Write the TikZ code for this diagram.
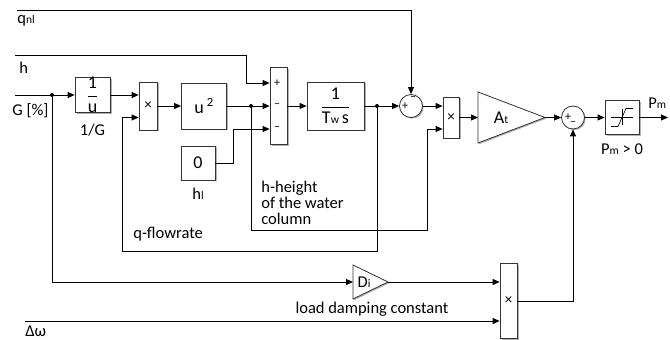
\documentclass[tikz,border=0pt]{standalone}
\usepackage{fontspec}
\setmainfont{Carlito}
\usepackage{amsmath}
\usetikzlibrary{arrows.meta, positioning, shadows}

\newcommand{\lowsub}[1]{{\fontsize{11.5}{12}\selectfont #1}}

\begin{document}
\begin{tikzpicture}[
			x=1pt, y=1pt,
			font=\fontsize{16.5}{19}\selectfont,
			line width=0.8pt,
			block/.style={
				rectangle,
				draw=black!80,
				fill=white,
				inner sep=0pt,
				drop shadow={shadow xshift=1.5pt, shadow yshift=-1.5pt, fill=black!30, opacity=1}
			},
			fracbox/.style={
				block,
				font=\fontsize{18}{20}\selectfont
			},
			prodbox/.style={
				block,
				font=\fontsize{15}{15}\selectfont
			},
			sumcirc/.style={
				circle,
				draw=black!80,
				fill=white,
				minimum size=23pt,
				inner sep=0pt,
				drop shadow={shadow xshift=1.2pt, shadow yshift=-1.2pt, fill=black!30, opacity=1}
			},
			gainshape/.style={
				draw=black!80,
				fill=white,
				line join=miter,
				drop shadow={shadow xshift=1.2pt, shadow yshift=-1.2pt, fill=black!30, opacity=1}
			},
			sig/.style={
				-{Triangle[length=7pt, width=6pt]}
			},
			dot/.style={
				circle,
				fill,
				inner sep=0pt,
				minimum size=4pt
			},
			sign/.style={
				font=\fontsize{12}{12}\selectfont,
				inner sep=0pt
			},
			txt/.style={
				inner sep=0pt
			}
			]
			
			\useasboundingbox (0,0) rectangle (670,340);
			
			% Input signals
			\coordinate (qnl_in) at (17,330);
			\coordinate (h_in) at (15,285);
			\coordinate (g_in) at (15,245);
			\coordinate (dw_in) at (25,19);
			\node[txt, anchor=north west] (qnl_lbl) at (17,325) {q\lowsub{nl}};
			\node[txt, anchor=north west] (h_lbl) at (19,278) {h};
			\node[txt, anchor=north west] (g_lbl) at (12,237) {G [\%]};
			\node[txt, anchor=north west] (dw_lbl) at (25,14.5) {Δω};
			
			% 1/G block
			\node[fracbox, minimum width=35pt, minimum height=35pt] (inv) at (92.5,245) {$\dfrac{\text{1}}{\text{u}}$};
			\node[txt, below=11pt of inv] (inv_lbl) {1/G};
			\node[dot] (gdot) at (52,245) {};
			\draw[sig] (g_in) -- (inv.west);
			
			% Flow rate product
			\node[prodbox, minimum width=18pt, minimum height=48pt] (mul1) at (148,234) {×};
			\draw[sig] (inv.east) -- (inv.east -| mul1.west);
			
			% u^2 block
			\node[fracbox, minimum width=45pt, minimum height=46pt] (sq) at (204,234) {u\,\textsuperscript{2}};
			\draw[sig] (mul1.east) -- (sq.west);
			
			% Head summation
			\node[block, minimum width=17pt, minimum height=77pt] (sumh) at (278.5,234) {};
			\node[sign] at ([xshift=-1.5pt, yshift=23pt]sumh.center) {+};
			\node[sign] at ([xshift=-1.5pt]sumh.center) {–};
			\node[sign] at ([xshift=-1.5pt, yshift=-23pt]sumh.center) {–};
			\node[dot] (hdot) at (251,234) {};
			\draw[sig] (sq.east) -- (sumh.west);
			\coordinate (hbend) at (246,285);
			\draw[sig] (h_in) -- (hbend) |- ([yshift=23pt]sumh.west);
			
			% Static head
			\node[fracbox, minimum size=34pt] (zero) at (198,177) {0};
			\node[txt, below=7pt of zero] (zero_lbl) {h\lowsub{l}};
			\draw[sig] (zero.east) -- ++(18,0) |- ([yshift=-23pt]sumh.west);
			
			% Water column integrator
			\node[fracbox, minimum width=57pt, minimum height=48pt] (integ) at (335.5,234) {$\dfrac{\text{1}}{\text{T\lowsub{w}\,s}}$};
			\draw[sig] (sumh.east) -- (integ.west);
			
			% No-load flow summation
			\node[sumcirc] (sumq) at (411,234) {};
			\node[sign] at ([xshift=-6pt]sumq.center) {+};
			\node[sign] at ([xshift=2pt, yshift=7.5pt]sumq.center) {–};
			\node[dot] (qdot) at (377,234) {};
			\draw[sig] (integ.east) -- (sumq.west);
			\draw[sig] (qnl_in) -| (sumq.north);
			
			% Power product
			\node[prodbox, minimum width=16pt, minimum height=41pt] (mul2) at (451,222.5) {×};
			\draw[sig] (sumq.east) -- ([yshift=11.5pt]mul2.west);
			
			% Turbine gain
			\coordinate (at_in) at (478,222.5);
			\draw[gainshape] (at_in) -- ++(0,25.5) -- ++(67,-25.5) coordinate (at_out) -- ++(-67,-25.5) -- cycle;
			\node[txt, font=\fontsize{18}{20}\selectfont] (at_lbl) at (501,222.5) {A\lowsub{t}};
			\draw[sig] (mul2.east) -- (at_in);
			
			% Damping summation
			\node[sumcirc] (sump) at (573,222.5) {};
			\node[sign] at ([xshift=-5pt]sump.center) {+};
			\node[sign] at ([yshift=-6pt]sump.center) {–};
			\draw[sig] (at_out) -- (sump.west);
			
			% Saturation
			\node[block, minimum size=34pt] (sat) at (622,222.5) {};
			\draw[line width=0.6pt] ([xshift=-11pt]sat.center) -- ([xshift=11pt]sat.center);
			\draw[line width=0.6pt] ([yshift=-8pt]sat.center) -- ([yshift=8pt]sat.center);
			\draw[line width=0.6pt] ([xshift=-11pt, yshift=-9pt]sat.center) -- ([xshift=-4pt, yshift=-9pt]sat.center)
				-- ([xshift=4pt, yshift=9pt]sat.center) -- ([xshift=11pt, yshift=9pt]sat.center);
			\node[txt, below=8pt of sat] (sat_lbl) {P\lowsub{m} > 0};
			\draw[sig] (sump.east) -- (sat.west);
			\coordinate (pm_out) at (668,222.5);
			\draw[sig] (sat.east) -- (pm_out);
			\node[txt, anchor=south west] (pm_lbl) at (648,231) {P\lowsub{m}};
			
			% Feedback loops
			\coordinate (qloop) at (122,89);
			\draw[sig] (qdot) |- (qloop) |- ([yshift=-11.5pt]mul1.west);
			\node[txt, anchor=west] (q_lbl) at (133,106) {q-flowrate};
			\coordinate (hloop) at (427,110);
			\draw[sig] (hdot) |- (hloop) |- ([yshift=-11.5pt]mul2.west);
			\node[txt, anchor=north west, align=left, font=\fontsize{16.5}{16}\selectfont] (h_txt) at (261,159) {h-height\\of the water\\column};
			
			% Load damping
			\coordinate (di_in) at (353,58);
			\draw[gainshape] (di_in) -- ++(0,17) -- ++(35,-17) coordinate (di_out) -- ++(-35,-17) -- cycle;
			\node[txt] (di_lbl) at (364,58) {D\lowsub{i}};
			\draw[sig] (gdot) |- (di_in);
			\node[prodbox, minimum width=17pt, minimum height=75pt] (mul3) at (508.5,39) {×};
			\draw[sig] (di_out) -- (di_out -| mul3.west);
			\draw[sig] (dw_in) -- (dw_in -| mul3.west);
			\node[txt] (d_lbl) at (372,31) {load damping constant};
			\draw[sig] (mul3.east) -| (sump.south);
			
		\end{tikzpicture}
\end{document}
